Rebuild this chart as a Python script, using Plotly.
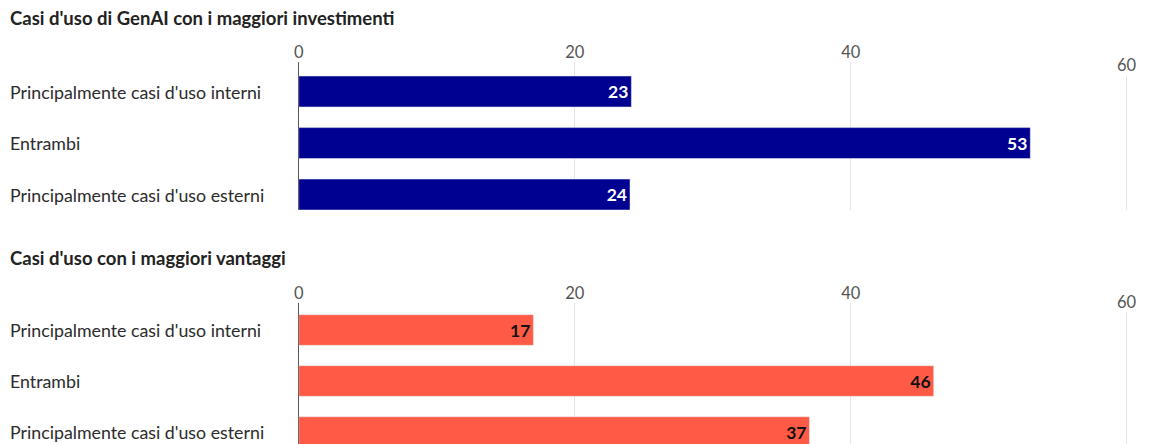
import plotly.graph_objects as go

categories = ["Principalmente casi d'uso interni", "Entrambi", "Principalmente casi d'uso esterni"]
invest_values = [24.1, 53, 24.0]
invest_labels = ["23", "53", "24"]
benefit_values = [17, 46, 37]
benefit_labels = ["17", "46", "37"]
titles = ["Casi d'uso di GenAI con i maggiori investimenti", "Casi d'uso con i maggiori vantaggi"]
tick_vals = [0, 20, 40, 60]
tick_text = ["0", "20", "40", ""]
last_tick = 60

W, H = 1152, 444
FONT = "Lato"
BLUE = "#000091"
RED = "#FF5A45"
GRID = "#e3e3e3"
TXT = "#2b2b2b"
TICK = "#555555"

fig = go.Figure()
fig.add_trace(go.Bar(
    y=categories, x=invest_values, orientation="h", marker_color=BLUE, width=0.6,
    text=invest_labels, texttemplate="<b>%{text}</b>", textposition="inside",
    insidetextanchor="end", textfont=dict(family=FONT, size=17.5, color="white"),
    xaxis="x", yaxis="y", hoverinfo="skip",
))
fig.add_trace(go.Bar(
    y=categories, x=benefit_values, orientation="h", marker_color=RED, width=0.6,
    text=benefit_labels, texttemplate="<b>%{text}</b>", textposition="inside",
    insidetextanchor="end", textfont=dict(family=FONT, size=17.5, color="#111111"),
    xaxis="x2", yaxis="y2", hoverinfo="skip",
))

x_dom = [295 / W, (W - 3) / W]
x_rng = [0, 61.6]
top_dom = [1 - 210 / H, 1 - 62 / H]
bot_dom = [0.0, 1 - 303 / H]

def xax(anchor):
    return dict(domain=x_dom, range=x_rng, side="top", anchor=anchor,
                tickvals=tick_vals, ticktext=tick_text,
                tickfont=dict(family=FONT, size=16.5, color=TICK),
                showgrid=True, gridcolor=GRID, gridwidth=1,
                zeroline=True, zerolinecolor="#555555", zerolinewidth=1,
                showline=False, ticks="", fixedrange=True)

def yax(anchor, dom, rng):
    return dict(domain=dom, anchor=anchor, type="category", categoryorder="array",
                categoryarray=categories, range=rng, showticklabels=False,
                showgrid=False, zeroline=False, showline=False, ticks="", fixedrange=True)

fig.update_layout(
    width=W, height=H, margin=dict(l=0, r=0, t=0, b=0),
    paper_bgcolor="white", plot_bgcolor="white", showlegend=False, bargap=0.4,
    xaxis=xax("y"), yaxis=yax("x", top_dom, [2.3, -0.573]),
    xaxis2=xax("y2"), yaxis2=yax("x2", bot_dom, [2.235, -0.53]),
)

annotations = []
title_y = [1 - 18 / H, 1 - 258 / H]
for t, ty in zip(titles, title_y):
    annotations.append(dict(text="<b>" + t + "</b>", xref="paper", yref="paper", x=3 / W, y=ty,
                            xanchor="left", yanchor="middle", showarrow=False,
                            font=dict(family=FONT, size=18.5, color="#222222")))
for yref in ["y", "y2"]:
    for c in categories:
        annotations.append(dict(text=c, xref="paper", yref=yref, x=3 / W, y=c,
                                xanchor="left", yanchor="middle", showarrow=False,
                                font=dict(family=FONT, size=17.8, color=TXT)))
for xref, ty in [("x", 1 - 65 / H), ("x2", 1 - 302 / H)]:
    annotations.append(dict(text=str(last_tick), xref=xref, yref="paper", x=last_tick, y=ty,
                            xanchor="center", yanchor="middle", showarrow=False,
                            bgcolor="white", borderpad=0,
                            font=dict(family=FONT, size=16.5, color=TICK)))
fig.update_layout(annotations=annotations)

fig.write_html("out.html", config={"displayModeBar": False},
               post_script="document.body.style.margin='0';document.body.style.overflow='hidden';")
